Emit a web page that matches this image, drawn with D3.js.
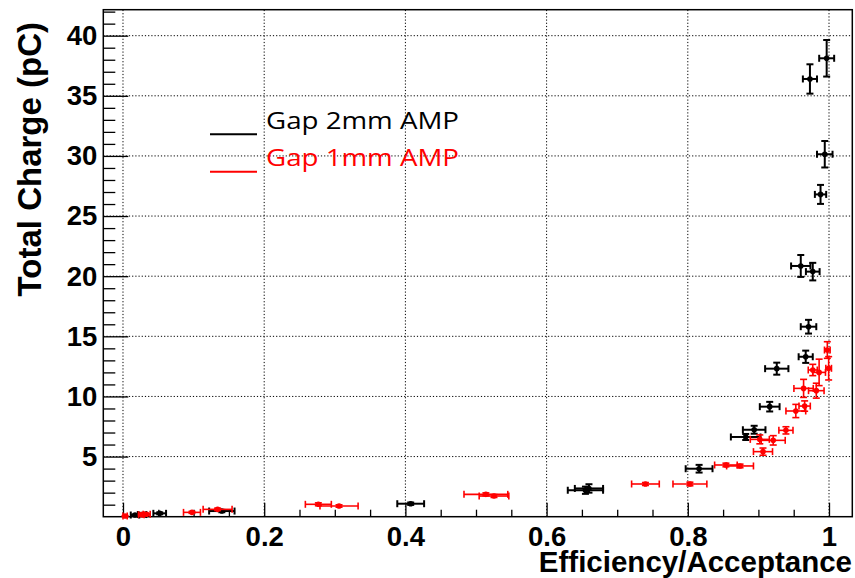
<!DOCTYPE html>
<html>
<head>
<meta charset="utf-8">
<script src="https://cdn.jsdelivr.net/npm/d3@7"></script>
<style>
  html, body { margin: 0; padding: 0; background: #fff; }
  svg { display: block; }
</style>
</head>
<body>
<svg id="chart" width="855" height="578"></svg>
<script>
// Gap 2mm AMP: efficiency, total charge (pC), and their errors
const gap2Eff    = [0.017, 0.027, 0.052, 0.140, 0.4075, 0.655, 0.660, 0.816, 0.882, 0.894, 0.916, 0.926, 0.967, 0.971, 0.960, 0.977, 0.988, 0.994, 0.973, 0.9967];
const gap2Charge = [0.14, 0.18, 0.28, 0.47, 1.08, 2.20, 2.35, 3.99, 6.63, 7.23, 9.15, 12.31, 13.30, 15.80, 20.85, 20.38, 26.80, 30.14, 36.40, 38.12];
const gap2EffErr = [0.006, 0.006, 0.009, 0.018, 0.019, 0.025, 0.020, 0.019, 0.021, 0.016, 0.014, 0.0165, 0.010, 0.011, 0.0137, 0.0097, 0.008, 0.011, 0.010, 0.0106];
const gap2ChgErr = [0.05, 0.05, 0.08, 0.10, 0.10, 0.30, 0.35, 0.32, 0.25, 0.33, 0.40, 0.50, 0.51, 0.57, 0.91, 0.73, 0.79, 1.10, 1.22, 1.52];

// Gap 1mm AMP
const gap1Eff    = [0.003, 0.026, 0.0335, 0.0977, 0.134, 0.2767, 0.306, 0.514, 0.5255, 0.740, 0.803, 0.854, 0.874, 0.9065, 0.902, 0.921, 0.939, 0.953, 0.9655, 0.964, 0.982, 0.977, 0.986, 0.9995, 0.9976];
const gap1Charge = [0.06, 0.17, 0.20, 0.36, 0.61, 1.03, 0.89, 1.86, 1.72, 2.72, 2.72, 4.30, 4.22, 5.41, 6.43, 6.35, 7.18, 8.79, 9.20, 10.67, 10.48, 12.20, 12.00, 12.34, 13.86];
const gap1EffErr = [0.003, 0.004, 0.005, 0.012, 0.0205, 0.0184, 0.027, 0.031, 0.021, 0.0196, 0.024, 0.016, 0.019, 0.0135, 0.0135, 0.017, 0.010, 0.014, 0.008, 0.0137, 0.011, 0.0064, 0.009, 0.004, 0.004];
const gap1ChgErr = [0.03, 0.05, 0.05, 0.08, 0.10, 0.12, 0.10, 0.12, 0.12, 0.12, 0.15, 0.15, 0.15, 0.30, 0.37, 0.39, 0.30, 0.55, 0.43, 0.75, 0.62, 0.47, 1.10, 0.97, 0.69];

const xMajorTicks = [0, 0.2, 0.4, 0.6, 0.8, 1];
const yMajorTicks = [5, 10, 15, 20, 25, 30, 35, 40];
const legendLabels = ["Gap 2mm AMP", "Gap 1mm AMP"];
const xTitle = "Efficiency/Acceptance";
const yTitle = "Total Charge (pC)";

const series = [
  { name: legendLabels[0], color: "#000000", width: 2,   eff: gap2Eff, chg: gap2Charge, ex: gap2EffErr, ey: gap2ChgErr },
  { name: legendLabels[1], color: "#ff0000", width: 1.6, eff: gap1Eff, chg: gap1Charge, ex: gap1EffErr, ey: gap1ChgErr }
];

const W = 855, H = 578;
const margin = { left: 103.3, right: 2.7, top: 9.7, bottom: 61.3 };
const svg = d3.select("#chart");

const x = d3.scaleLinear().domain([-0.0279, 1.033]).range([margin.left, W - margin.right]);
const y = d3.scaleLinear().domain([0, 42.16]).range([H - margin.bottom, margin.top]);

const FONT = "'Liberation Sans', Arial, Helvetica, sans-serif";
const TICK_FONT = 27.5;

// dotted grid at the major ticks
const grid = svg.append("g").attr("stroke", "#000").attr("stroke-width", 1).attr("stroke-dasharray", "1.2,2");
grid.selectAll("line.gx").data(xMajorTicks).join("line")
  .attr("x1", d => x(d)).attr("x2", d => x(d))
  .attr("y1", y.range()[0]).attr("y2", y.range()[1]);
grid.selectAll("line.gy").data(yMajorTicks).join("line")
  .attr("x1", x.range()[0]).attr("x2", x.range()[1])
  .attr("y1", d => y(d)).attr("y2", d => y(d));

// axes: ticks point into the frame
const yMinor = d3.range(1, 43).filter(v => v % 5 !== 0);
const xMinor = d3.range(0, 21).map(i => i * 0.05).filter((v, i) => i % 4 !== 0);

const bottom = y.range()[0];
const left = x.range()[0];

svg.append("g").attr("transform", `translate(0,${bottom})`)
  .call(d3.axisBottom(x).tickValues(xMinor).tickFormat("").tickSize(-7).tickSizeOuter(0))
  .call(g => g.select(".domain").remove())
  .call(g => g.selectAll("line").attr("stroke", "#000").attr("stroke-width", 1.3));

svg.append("g").attr("transform", `translate(0,${bottom})`)
  .call(d3.axisBottom(x).tickValues(xMajorTicks).tickFormat(d3.format("~g")).tickSize(-14).tickSizeOuter(0).tickPadding(10))
  .call(g => g.select(".domain").remove())
  .call(g => g.selectAll("line").attr("stroke", "#000").attr("stroke-width", 1.3))
  .call(g => g.selectAll("text").attr("font-family", FONT).attr("font-weight", "bold").attr("font-size", TICK_FONT).attr("fill", "#000"));

svg.append("g").attr("transform", `translate(${left},0)`)
  .call(d3.axisLeft(y).tickValues(yMinor).tickFormat("").tickSize(-12).tickSizeOuter(0))
  .call(g => g.select(".domain").remove())
  .call(g => g.selectAll("line").attr("stroke", "#000").attr("stroke-width", 1.3));

svg.append("g").attr("transform", `translate(${left},0)`)
  .call(d3.axisLeft(y).tickValues(yMajorTicks).tickFormat(d3.format("d")).tickSize(-25).tickSizeOuter(0).tickPadding(6))
  .call(g => g.select(".domain").remove())
  .call(g => g.selectAll("line").attr("stroke", "#000").attr("stroke-width", 1.3))
  .call(g => g.selectAll("text").attr("font-family", FONT).attr("font-weight", "bold").attr("font-size", TICK_FONT).attr("fill", "#000"));

// frame
svg.append("rect")
  .attr("x", x.range()[0]).attr("y", y.range()[1])
  .attr("width", x.range()[1] - x.range()[0]).attr("height", y.range()[0] - y.range()[1])
  .attr("fill", "none").attr("stroke", "#000").attr("stroke-width", 1.5);

// data with error bars
const cap = 3.5;
series.forEach(s => {
  const pts = s.eff.map((e, i) => ({ e, c: s.chg[i], ex: s.ex[i], ey: s.ey[i] }));
  const g = svg.append("g").attr("stroke", s.color).attr("stroke-width", s.width).attr("fill", s.color);
  const pg = g.selectAll("g").data(pts).join("g");
  // horizontal bar
  pg.append("line")
    .attr("x1", d => x(d.e - d.ex)).attr("x2", d => x(d.e + d.ex))
    .attr("y1", d => y(d.c)).attr("y2", d => y(d.c));
  pg.append("line")
    .attr("x1", d => x(d.e - d.ex)).attr("x2", d => x(d.e - d.ex))
    .attr("y1", d => y(d.c) - cap).attr("y2", d => y(d.c) + cap);
  pg.append("line")
    .attr("x1", d => x(d.e + d.ex)).attr("x2", d => x(d.e + d.ex))
    .attr("y1", d => y(d.c) - cap).attr("y2", d => y(d.c) + cap);
  // vertical bar
  pg.append("line")
    .attr("x1", d => x(d.e)).attr("x2", d => x(d.e))
    .attr("y1", d => y(d.c - d.ey)).attr("y2", d => y(d.c + d.ey));
  pg.append("line")
    .attr("x1", d => x(d.e) - cap).attr("x2", d => x(d.e) + cap)
    .attr("y1", d => y(d.c - d.ey)).attr("y2", d => y(d.c - d.ey));
  pg.append("line")
    .attr("x1", d => x(d.e) - cap).attr("x2", d => x(d.e) + cap)
    .attr("y1", d => y(d.c + d.ey)).attr("y2", d => y(d.c + d.ey));
  // marker
  pg.append("circle")
    .attr("cx", d => x(d.e)).attr("cy", d => y(d.c)).attr("r", 2.8)
    .attr("stroke", "none");
});

// axis titles
svg.append("text")
  .attr("x", W - 3).attr("y", 572)
  .attr("text-anchor", "end")
  .attr("font-family", FONT).attr("font-weight", "bold").attr("font-size", 29.5)
  .attr("fill", "#000").text(xTitle);

svg.append("text")
  .attr("transform", `translate(41,${22}) rotate(-90)`)
  .attr("text-anchor", "end")
  .attr("font-family", FONT).attr("font-weight", "bold").attr("font-size", 33)
  .attr("fill", "#000").text(yTitle);

// legend
const legend = svg.append("g");
series.forEach((s, i) => {
  const ly = [134.3, 171.7][i];
  const ty = [129, 166][i];
  legend.append("line")
    .attr("x1", 210).attr("x2", 257).attr("y1", ly).attr("y2", ly)
    .attr("stroke", s.color).attr("stroke-width", 2);
  legend.append("text")
    .attr("x", 266).attr("y", ty)
    .attr("font-family", "'Open Sans', 'Noto Sans', sans-serif").attr("font-size", 23)
    .attr("textLength", 193).attr("lengthAdjust", "spacingAndGlyphs")
    .attr("fill", s.color).text(s.name);
});
</script>
</body>
</html>
